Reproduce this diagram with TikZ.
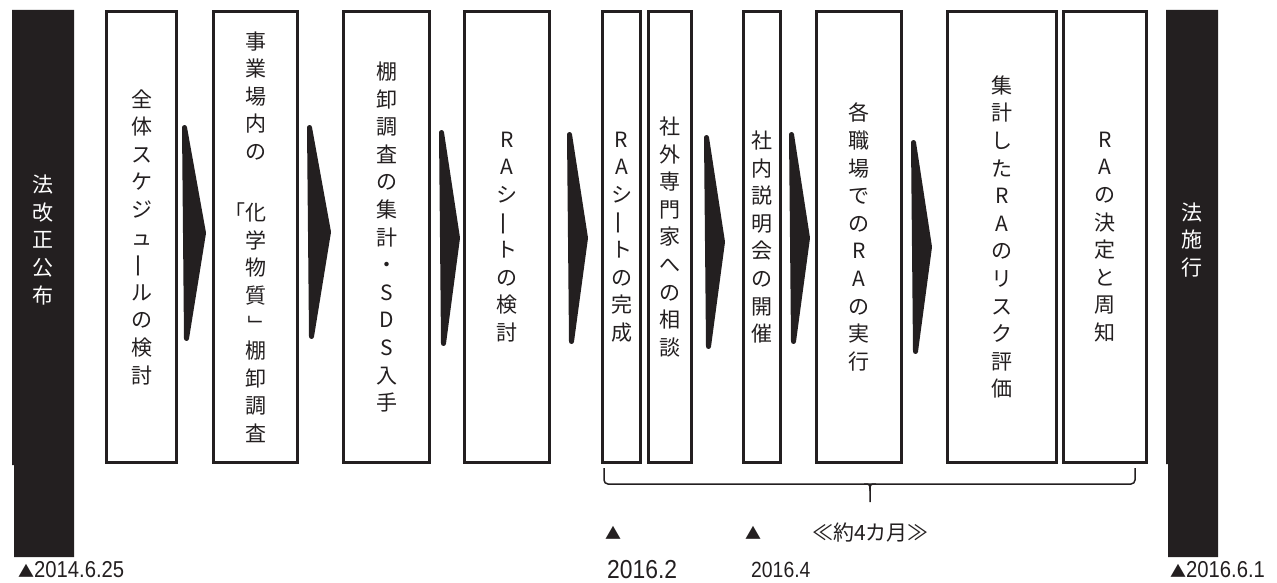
\documentclass[tikz,border=0pt]{standalone}
\usepackage{fontspec}
\usepackage{graphicx}
\newfontfamily\jp{Noto Sans CJK JP}
\newfontfamily\cond[FakeStretch=0.88]{Liberation Sans}
\definecolor{ink}{RGB}{35,31,32}
\newcommand\vbar{\raisebox{0.1em}{\rotatebox[origin=c]{90}{\scalebox{1.2}[1]{ー}}}}
\newcommand\vclose{\rotatebox[origin=c]{-90}{」}}
\newcommand\chev[4]{\filldraw[chev] (#1+2.5,#2+2.5) -- (#3-2.5,#4) -- (#1+4.5,2*#4-#2-2.5) -- cycle;}
\begin{document}
\begin{tikzpicture}[x=1pt,y=-1pt,
  box/.style={draw=ink, line width=3pt, fill=white, inner sep=0pt,
    minimum height=451pt, align=center, text=ink,
    font=\jp\fontsize{21}{27.6}\selectfont},
  bartext/.style={inner sep=0pt, align=center, text=white,
    font=\jp\fontsize{21}{27.6}\selectfont},
  chev/.style={fill=ink, draw=ink, line width=5pt, line join=round},
  brace/.style={draw=ink, line width=1.5pt},
  date/.style={inner sep=0pt, anchor=west, text=ink}]
\useasboundingbox (0,0) rectangle (1277,583);
% black bars
\fill[ink] (12,10) -- (74,10) -- (74,557) -- (14,557) -- (14,465) -- (12,465) -- cycle;
\node[bartext] (kohu) at (43,240) {法\\改\\正\\公\\布};
\fill[ink] (1166,10) -- (1218,10) -- (1218,557) -- (1168,557) -- (1168,464) -- (1166,464) -- cycle;
\node[bartext] (seko) at (1192,240) {法\\施\\行};
% boxes
\node[box, minimum width=70] (b1) at (141.5,237) {全\\体\\ス\\ケ\\ジ\\ュ\\\vbar\\ル\\の\\検\\討};
\node[box, minimum width=84] (b2) at (255.5,237) {事\\業\\場\\内\\の\\\mbox{}\\[6pt]\llap{「}化\\学\\物\\質\\\vclose\\棚\\卸\\調\\査};
\node[box, minimum width=86] (b3) at (386.5,237) {棚\\卸\\調\\査\\の\\集\\計\\・\\S\\D\\S\\入\\手};
\node[box, minimum width=85] (b4) at (507,237) {R\\A\\シ\\\vbar\\ト\\の\\検\\討};
\node[box, minimum width=38] (b5) at (621.5,237) {R\\A\\シ\\\vbar\\ト\\の\\完\\成};
\node[box, minimum width=43] (b6) at (670,237) {社\\外\\専\\門\\家\\へ\\の\\相\\談};
\node[box, minimum width=37] (b7) at (762,237) {社\\内\\説\\明\\会\\の\\開\\催};
\node[box, minimum width=85] (b8) at (859,237) {各\\職\\場\\で\\の\\R\\A\\の\\実\\行};
\node[box, minimum width=109] (b9) at (1002,237) {集\\計\\し\\た\\R\\A\\の\\リ\\ス\\ク\\評\\価};
\node[box, minimum width=83] (b10) at (1105,237) {R\\A\\の\\決\\定\\と\\周\\知};
% chevrons
\chev{182}{125}{206}{233}
\chev{307}{125}{331}{232}
\chev{439}{130}{460}{238}
\chev{567}{132}{588}{238}
\chev{704}{135}{725}{242}
\chev{789}{132}{810}{238}
\chev{911}{140}{932}{247}
% brace
\coordinate (brL) at (604,468);
\coordinate (brR) at (1135,468);
\coordinate (brM) at (870,502);
\draw[brace, rounded corners=4pt] (brL) -- (604,484) -- (1135,484) -- (brR);
\draw[brace] (864,484) .. controls (870,484) .. (870,491) -- (brM);
\draw[brace] (876,484) .. controls (870,484) .. (870,491);
% bottom labels
\node[date, font=\jp\fontsize{16}{16}\selectfont] (t1) at (605,533) {▲};
\node[date, font=\jp\fontsize{16}{16}\selectfont] (t2) at (745,533) {▲};
\node[date, font=\jp\fontsize{21}{21}\selectfont] (yaku) at (812,533) {≪約4カ月≫};
\node[date, font=\cond\fontsize{26}{26}\selectfont] (d2) at (607,570) {2016.2};
\node[date, font=\cond\fontsize{22}{22}\selectfont] (d4) at (751,570) {2016.4};
\node[date] (d0) at (18,570) {{\jp\fontsize{16}{16}\selectfont ▲}{\cond\fontsize{23}{23}\selectfont 2014.6.25}};
\node[date] (d6) at (1170,570) {{\jp\fontsize{16}{16}\selectfont ▲}{\cond\fontsize{23}{23}\selectfont 2016.6.1}};
\end{tikzpicture}
\end{document}
